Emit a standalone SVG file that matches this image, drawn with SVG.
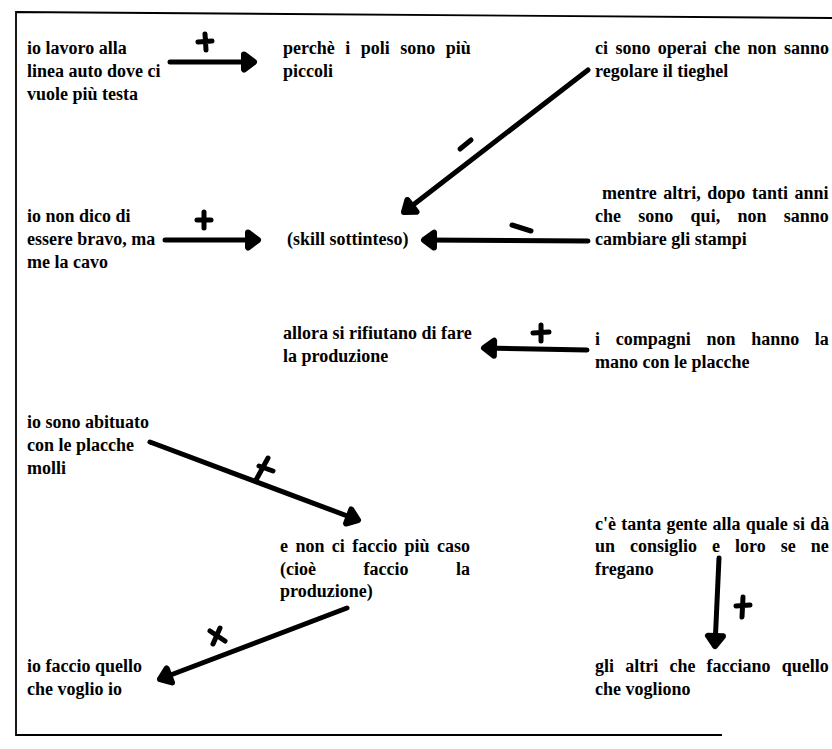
<svg xmlns="http://www.w3.org/2000/svg" width="832" height="749" viewBox="0 0 832 749">
  <style>
    .t { font-family: "Liberation Serif", "Times New Roman", serif; font-weight: bold; font-size: 18px; fill: #000; }
    .frame { stroke: #000; stroke-width: 1.8; fill: none; }
    .c { stroke: #000; stroke-width: 5; fill: none; stroke-linecap: round; stroke-linejoin: round; }
    .sign { stroke: #000; stroke-width: 5; fill: none; stroke-linecap: round; stroke-linejoin: round; }
  </style>
  <defs>
    <!-- hand-drawn style chevron head -->
    <marker id="ah" viewBox="-16 -12 20 24" refX="0" refY="0" markerWidth="20" markerHeight="24" markerUnits="userSpaceOnUse" orient="auto" overflow="visible">
      <path d="M-10,-7.5 L0,0 L-10,7.5 Z" stroke="#000" stroke-width="6" fill="#000" stroke-linecap="round" stroke-linejoin="round"/>
    </marker>
  </defs>

  <rect width="832" height="749" fill="#fff"/>

  <!-- page frame (open on the right) -->
  <path class="frame" d="M832,18 L16,12 L16,735 L722,735"/>

  <!-- nodes -->
  <g id="n-linea-auto">
    <text class="t" x="27" y="54">io lavoro alla</text>
    <text class="t" x="27" y="77">linea auto dove ci</text>
    <text class="t" x="27" y="100">vuole più testa</text>
  </g>
  <g id="n-poli-piccoli">
    <text class="t" x="283" y="54" word-spacing="6">perchè i poli sono più</text>
    <text class="t" x="283" y="77">piccoli</text>
  </g>
  <g id="n-tieghel">
    <text class="t" x="595" y="54" word-spacing="2.9">ci sono operai che non sanno</text>
    <text class="t" x="595" y="77">regolare il tieghel</text>
  </g>
  <g id="n-me-la-cavo">
    <text class="t" x="27" y="222">io non dico di</text>
    <text class="t" x="27" y="245">essere bravo, ma</text>
    <text class="t" x="27" y="268">me la cavo</text>
  </g>
  <g id="n-skill">
    <text class="t" x="287" y="245">(skill sottinteso)</text>
  </g>
  <g id="n-stampi">
    <text class="t" x="602" y="199" word-spacing="2.1">mentre altri, dopo tanti anni</text>
    <text class="t" x="595" y="222" word-spacing="12.8">che sono qui, non sanno</text>
    <text class="t" x="595" y="245">cambiare gli stampi</text>
  </g>
  <g id="n-rifiutano">
    <text class="t" x="283" y="339">allora si rifiutano di fare</text>
    <text class="t" x="283" y="362">la produzione</text>
  </g>
  <g id="n-compagni">
    <text class="t" x="595" y="345" word-spacing="11.2">i compagni non hanno la</text>
    <text class="t" x="595" y="368">mano con le placche</text>
  </g>
  <g id="n-placche-molli">
    <text class="t" x="27" y="428">io sono abituato</text>
    <text class="t" x="27" y="451">con le placche</text>
    <text class="t" x="27" y="474">molli</text>
  </g>
  <g id="n-non-ci-faccio-caso">
    <text class="t" x="280" y="552" word-spacing="2.9">e non ci faccio più caso</text>
    <text class="t" x="280" y="575" word-spacing="43">(cioè faccio la</text>
    <text class="t" x="280" y="597">produzione)</text>
  </g>
  <g id="n-consiglio">
    <text class="t" x="595" y="530" word-spacing="0.7">c'è tanta gente alla quale si dà</text>
    <text class="t" x="595" y="552" word-spacing="10.5">un consiglio e loro se ne</text>
    <text class="t" x="595" y="575">fregano</text>
  </g>
  <g id="n-quello-che-voglio">
    <text class="t" x="27" y="672">io faccio quello</text>
    <text class="t" x="27" y="695">che voglio io</text>
  </g>
  <g id="n-altri-vogliono">
    <text class="t" x="595" y="672" word-spacing="6.7">gli altri che facciano quello</text>
    <text class="t" x="595" y="695">che vogliono</text>
  </g>

  <!-- connectors with their +/- signs -->
  <g id="connectors">
    <path class="c" d="M170,62 L254,62" marker-end="url(#ah)" stroke-width="6"/>
    <path class="sign" d="M198,42 L212,41 M205,34 L206,50"/>

    <path class="c" d="M588,70 L404,212" marker-end="url(#ah)"/>
    <path class="sign" d="M460,149 L471,140"/>

    <path class="c" d="M165,240 L258,240" marker-end="url(#ah)"/>
    <path class="sign" d="M197,220 L211,220 M204,212 L204,228"/>

    <path class="c" d="M588,241 L424,240" marker-end="url(#ah)"/>
    <path class="sign" d="M512,225 L531,231"/>

    <path class="c" d="M587,350 L484,348" marker-end="url(#ah)"/>
    <path class="sign" d="M533,333 L549,332 M541,325 L541,341"/>

    <path class="c" d="M150,442 L358,520" marker-end="url(#ah)"/>
    <path class="sign" d="M256,480 L268,458 M259,466 L273,471"/>

    <path class="c" d="M347,608 L160,679" marker-end="url(#ah)"/>
    <path class="sign" d="M210,631 L225,641 M220,628 L213,644"/>

    <path class="c" d="M719,558 L715,646" marker-end="url(#ah)" stroke-width="5.5"/>
    <path class="sign" d="M736,606 L750,605 M743,597 L742,617"/>
  </g>
</svg>
